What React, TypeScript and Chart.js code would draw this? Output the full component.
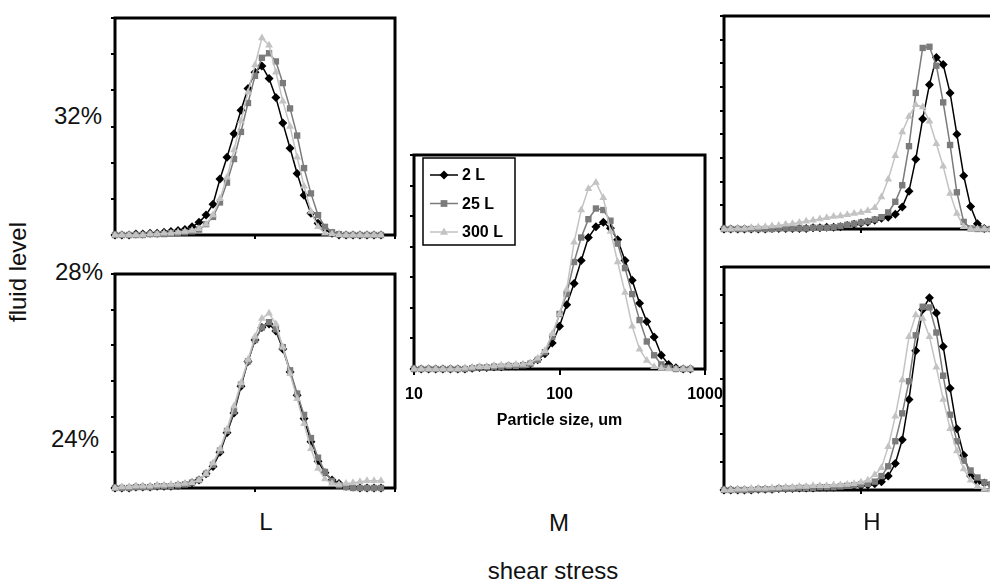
import React, { useEffect, useRef } from 'react';
import { Chart, registerables } from 'chart.js';

Chart.register(...registerables);

// particle size bins (um)
const SIZES = [10, 11.2, 12.6, 14.1, 15.8, 17.8, 20, 22.4, 25.1, 28.2, 31.6, 35.5, 39.8, 44.7, 50.1, 56.2, 63.1, 70.8, 79.4, 89.1, 100, 112, 126, 141, 158, 178, 200, 224, 251, 282, 316, 355, 398, 447, 501, 562, 631, 708, 794, 891];
const SERIES_NAMES = ['2 L', '25 L', '300 L'];
const X_TICKS = [10, 100, 1000];

// L shear, 32% fluid
const TL_2L = [0, 0, 0, 0.05, 0.05, 0.1, 0.1, 0.15, 0.2, 0.25, 0.3, 0.45, 0.7, 1.1, 1.7, 3.1, 4.3, 5.6, 6.9, 8.1, 9.0, 9.35, 8.65, 7.6, 6.2, 4.8, 3.4, 2.2, 1.2, 0.65, 0.3, 0.1, 0, 0, 0, 0, 0, 0, 0];
const TL_25L = [0, 0, 0, 0, 0, 0.05, 0.05, 0.05, 0.1, 0.1, 0.15, 0.2, 0.3, 0.6, 1.0, 1.8, 2.9, 4.2, 5.7, 7.3, 8.8, 9.8, 10.05, 9.6, 8.4, 7.0, 5.5, 3.7, 2.3, 1.1, 0.45, 0.15, 0.05, 0, 0, 0, 0, 0, 0];
const TL_300L = [0, 0, 0, 0, 0, 0.05, 0.05, 0.1, 0.1, 0.15, 0.2, 0.25, 0.35, 0.6, 1.1, 2.0, 3.2, 4.7, 6.3, 7.9, 9.4, 10.9, 10.5, 9.0, 7.4, 6.0, 4.3, 2.7, 1.3, 0.45, 0.1, 0.05, 0, 0, 0, 0, 0, 0, 0];

// L shear, 24% fluid
const BL_2L = [0, 0, 0, 0.05, 0.05, 0.05, 0.1, 0.1, 0.1, 0.15, 0.2, 0.3, 0.45, 0.8, 1.2, 2.0, 3.1, 4.2, 5.7, 7.1, 8.3, 9.0, 9.2, 8.8, 7.8, 6.5, 5.2, 3.9, 2.6, 1.5, 0.85, 0.45, 0.25, 0.1, 0.05, 0, 0, 0, 0];
const BL_25L = [0, 0, 0, 0.05, 0.05, 0.05, 0.1, 0.1, 0.1, 0.15, 0.2, 0.3, 0.45, 0.8, 1.3, 2.1, 3.2, 4.3, 5.8, 7.1, 8.3, 9.0, 9.3, 8.9, 7.9, 6.6, 5.3, 4.1, 2.8, 1.7, 0.9, 0.4, 0.15, 0.05, 0, 0, 0, 0, 0];
const BL_300L = [0, 0.05, 0.05, 0.1, 0.1, 0.1, 0.15, 0.15, 0.2, 0.2, 0.25, 0.3, 0.45, 0.8, 1.4, 2.2, 3.3, 4.6, 5.9, 7.2, 8.5, 9.5, 9.8, 9.2, 7.9, 6.4, 5.0, 3.6, 2.2, 1.1, 0.5, 0.25, 0.2, 0.25, 0.3, 0.35, 0.4, 0.4, 0.4];

// M shear, 28% fluid
const M_2L = [0, 0, 0, 0, 0, 0, 0, 0, 0.05, 0.1, 0.1, 0.15, 0.15, 0.2, 0.2, 0.25, 0.35, 0.6, 1.0, 1.7, 2.8, 4.2, 5.6, 7.1, 8.6, 9.3, 9.6, 9.2, 8.45, 7.1, 5.8, 4.3, 3.1, 2.1, 0.9, 0.3, 0.08, 0, 0];
const M_25L = [0, 0, 0, 0, 0, 0, 0, 0, 0.05, 0.1, 0.1, 0.15, 0.15, 0.2, 0.2, 0.25, 0.35, 0.6, 1.1, 2.1, 3.6, 4.9, 7.0, 8.6, 9.8, 10.5, 10.4, 9.7, 8.2, 6.6, 4.9, 3.2, 1.8, 0.9, 0.3, 0.08, 0, 0, 0];
const M_300L = [0, 0, 0, 0, 0, 0, 0, 0.05, 0.1, 0.15, 0.15, 0.2, 0.25, 0.25, 0.3, 0.3, 0.4, 0.7, 1.2, 2.3, 3.6, 5.2, 8.3, 10.4, 11.8, 12.2, 11.2, 9.0, 7.0, 5.0, 2.8, 1.3, 0.55, 0.15, 0.05, 0, 0, 0, 0];

// H shear, 32% fluid
const TR_2L = [0, 0, 0, 0, 0, 0, 0, 0.05, 0.05, 0.05, 0.05, 0.05, 0.05, 0.1, 0.1, 0.15, 0.15, 0.2, 0.3, 0.4, 0.5, 0.6, 0.75, 0.9, 1.0, 1.25, 1.85, 3.2, 5.9, 9.3, 12.2, 14.5, 13.9, 11.5, 8.0, 4.5, 1.9, 0.45, 0.05, 0];
const TR_25L = [0, 0, 0, 0, 0, 0, 0, 0, 0.05, 0.05, 0.05, 0.05, 0.05, 0.1, 0.1, 0.1, 0.15, 0.25, 0.35, 0.45, 0.55, 0.65, 0.8, 1.0, 1.4, 2.3, 3.7, 7.0, 11.5, 15.3, 15.4, 13.8, 10.7, 7.1, 3.1, 0.6, 0.05, 0, 0, 0];
const TR_300L = [0, 0, 0.05, 0.05, 0.1, 0.15, 0.2, 0.25, 0.3, 0.4, 0.45, 0.55, 0.65, 0.75, 0.85, 0.95, 1.05, 1.1, 1.2, 1.3, 1.4, 1.55, 1.8, 2.7, 4.2, 6.2, 8.2, 9.5, 10.5, 10.3, 9.1, 7.2, 5.3, 3.0, 1.3, 0.2, 0, 0, 0, 0];

// H shear, 24% fluid
const BR_2L = [0, 0, 0, 0, 0, 0.05, 0.05, 0.05, 0.1, 0.1, 0.1, 0.15, 0.15, 0.15, 0.2, 0.2, 0.2, 0.25, 0.25, 0.3, 0.3, 0.35, 0.45, 0.6, 1.0, 1.9, 3.6, 6.5, 10.0, 12.95, 13.8, 12.7, 10.3, 7.3, 4.4, 2.5, 1.0, 0.55, 0.5, 0.4];
const BR_25L = [0, 0, 0, 0, 0, 0.05, 0.05, 0.05, 0.1, 0.1, 0.1, 0.15, 0.15, 0.15, 0.2, 0.2, 0.2, 0.25, 0.3, 0.35, 0.4, 0.45, 0.6, 1.0, 1.7, 3.5, 5.5, 7.8, 11.1, 13.15, 13.1, 11.3, 8.2, 5.4, 3.5, 2.1, 1.4, 0.9, 0.55, 0.4];
const BR_300L = [0, 0, 0.05, 0.05, 0.1, 0.1, 0.1, 0.15, 0.15, 0.2, 0.2, 0.25, 0.25, 0.3, 0.3, 0.3, 0.35, 0.35, 0.4, 0.45, 0.55, 0.7, 1.1, 1.6, 3.1, 5.3, 7.9, 11.0, 12.55, 12.3, 11.0, 8.8, 6.5, 4.4, 2.8, 1.5, 0.7, 0.25, 0.05, 0];

const COLORS = ['#000000', '#7b7b7b', '#c3c3c3'];
const POINT_STYLES = ['rectRot', 'rect', 'triangle'];
const POINT_RADII = [4.5, 4.5, 4.5];

const FONT = '"Liberation Sans", Arial, Helvetica, sans-serif';
const Y_AXIS_W = 10;
const PAD_T = 8;
const AX_H = 10;

type Frame = [number, number, number, number];

const framePlugin = {
  id: 'frame',
  beforeDatasetsDraw(chart: any) {
    const { ctx, chartArea } = chart;
    ctx.save();
    ctx.strokeStyle = '#000';
    ctx.lineWidth = 3;
    ctx.strokeRect(chartArea.left, chartArea.top, chartArea.right - chartArea.left, chartArea.bottom - chartArea.top);
    ctx.restore();
  },
};

function drawMarker(ctx: CanvasRenderingContext2D, style: string, x: number, y: number, r: number) {
  ctx.beginPath();
  if (style === 'rectRot') {
    ctx.moveTo(x, y - r);
    ctx.lineTo(x + r, y);
    ctx.lineTo(x, y + r);
    ctx.lineTo(x - r, y);
  } else if (style === 'rect') {
    const s = r * 0.75;
    ctx.rect(x - s, y - s, 2 * s, 2 * s);
  } else {
    ctx.moveTo(x, y - r);
    ctx.lineTo(x + r * 0.9, y + r * 0.6);
    ctx.lineTo(x - r * 0.9, y + r * 0.6);
  }
  ctx.closePath();
  ctx.fill();
}

const legendPlugin = {
  id: 'boxLegend',
  afterDraw(chart: any) {
    const { ctx, chartArea } = chart;
    const bx = chartArea.left + 9;
    const by = chartArea.top + 3;
    ctx.save();
    ctx.fillStyle = '#fff';
    ctx.fillRect(bx, by, 92, 87);
    ctx.strokeStyle = '#000';
    ctx.lineWidth = 1.5;
    ctx.strokeRect(bx, by, 92, 87);
    SERIES_NAMES.forEach((name, k) => {
      const y = by + 17 + 28.5 * k;
      ctx.strokeStyle = COLORS[k];
      ctx.fillStyle = COLORS[k];
      ctx.lineWidth = 1.5;
      ctx.beginPath();
      ctx.moveTo(bx + 7, y);
      ctx.lineTo(bx + 35, y);
      ctx.stroke();
      drawMarker(ctx, POINT_STYLES[k], bx + 21, y, 4.5);
      ctx.fillStyle = '#000';
      ctx.font = `bold 16px ${FONT}`;
      ctx.textBaseline = 'middle';
      ctx.textAlign = 'left';
      ctx.fillText(name, bx + 39, y + 1);
    });
    ctx.restore();
  },
};

type PanelProps = {
  frame: Frame;
  yMax: number;
  series: number[][];
  withAxisText?: boolean;
};

function Panel({ frame, yMax, series, withAxisText }: PanelProps) {
  const ref = useRef<HTMLCanvasElement | null>(null);
  const [l, t, r, b] = frame;
  const axH = withAxisText ? 61 : AX_H;
  const padL = withAxisText ? 14 : 0;
  const padR = withAxisText ? 24 : 8;
  const w = r - l + Y_AXIS_W + padL + padR;
  const h = b - t + PAD_T + axH;

  useEffect(() => {
    if (!ref.current) return;
    const chart = new Chart(ref.current, {
      type: 'line',
      data: {
        datasets: series.map((ys, k) => ({
          label: SERIES_NAMES[k],
          data: ys.map((y, i) => ({ x: SIZES[i], y })),
          borderColor: COLORS[k],
          backgroundColor: COLORS[k],
          pointBackgroundColor: COLORS[k],
          pointBorderColor: COLORS[k],
          pointStyle: POINT_STYLES[k] as any,
          pointRadius: POINT_RADII[k],
          pointBorderWidth: 0,
          borderWidth: 1.5,
          tension: 0,
          fill: false,
          clip: false as any,
          order: 3 - k,
        })),
      },
      options: {
        animation: false,
        responsive: false,
        maintainAspectRatio: false,
        events: [],
        layout: { padding: { left: padL, top: PAD_T, right: padR, bottom: 0 } },
        plugins: {
          legend: { display: false },
          tooltip: { enabled: false },
          title: { display: false },
        },
        scales: {
          x: {
            type: 'logarithmic',
            min: 10,
            max: 1000,
            afterBuildTicks: (s: any) => {
              s.ticks = X_TICKS.map((v) => ({ value: v }));
            },
            afterFit: (s: any) => {
              s.height = axH;
              s.paddingLeft = 0;
              s.paddingRight = 0;
            },
            border: { display: false },
            grid: {
              display: true,
              drawOnChartArea: false,
              drawTicks: true,
              tickLength: withAxisText ? 6 : 4,
              color: '#000',
              lineWidth: 2,
            },
            ticks: {
              display: !!withAxisText,
              autoSkip: false,
              maxRotation: 0,
              padding: 10,
              color: '#000',
              font: { family: FONT, size: 16, weight: 'bold' },
              callback: (v: any) => String(v),
            },
            title: {
              display: !!withAxisText,
              text: 'Particle size, um',
              color: '#000',
              padding: { top: 0, bottom: 0 },
              font: { family: FONT, size: 16, weight: 'bold' },
            },
          },
          y: {
            type: 'linear',
            min: 0,
            max: yMax,
            afterFit: (s: any) => {
              s.width = Y_AXIS_W;
              s.paddingTop = 0;
              s.paddingBottom = 0;
            },
            border: { display: false },
            grid: {
              display: true,
              drawOnChartArea: false,
              drawTicks: true,
              tickLength: 4,
              color: '#000',
              lineWidth: 2,
            },
            ticks: { display: false, stepSize: 2 },
          },
        },
      } as any,
      plugins: withAxisText ? [framePlugin, legendPlugin] : [framePlugin],
    });
    return () => chart.destroy();
  }, []);

  return (
    <canvas
      ref={ref}
      width={w}
      height={h}
      style={{ position: 'absolute', left: l - Y_AXIS_W - padL, top: t - PAD_T, width: w, height: h }}
    />
  );
}

const labelStyle = (x: number, y: number, rotate = 0): React.CSSProperties => ({
  position: 'absolute',
  left: x,
  top: y,
  transform: `translate(-50%, -50%) rotate(${rotate}deg)`,
  font: `24px ${FONT}`,
  lineHeight: '24px',
  color: '#111',
  whiteSpace: 'nowrap',
});

export default function App() {
  return (
    <div
      style={{
        position: 'fixed',
        left: 0,
        top: 0,
        width: 990,
        height: 581,
        overflow: 'hidden',
        background: '#fff',
      }}
    >
      <Panel frame={[115, 18, 395, 235]} yMax={12} series={[TL_2L, TL_25L, TL_300L]} />
      <Panel frame={[115, 274, 395, 488]} yMax={12} series={[BL_2L, BL_25L, BL_300L]} />
      <Panel frame={[414, 155, 705, 369]} yMax={14} series={[M_2L, M_25L, M_300L]} withAxisText />
      <Panel frame={[724, 16, 998, 229]} yMax={18} series={[TR_2L, TR_25L, TR_300L]} />
      <Panel frame={[724, 267, 998, 490]} yMax={16} series={[BR_2L, BR_25L, BR_300L]} />
      <div style={labelStyle(78, 116)}>32%</div>
      <div style={labelStyle(79, 272)}>28%</div>
      <div style={labelStyle(75, 439)}>24%</div>
      <div style={labelStyle(18, 272, -90)}>fluid level</div>
      <div style={labelStyle(266, 522)}>L</div>
      <div style={labelStyle(559, 523)}>M</div>
      <div style={labelStyle(872, 522)}>H</div>
      <div style={labelStyle(553, 571)}>shear stress</div>
    </div>
  );
}
